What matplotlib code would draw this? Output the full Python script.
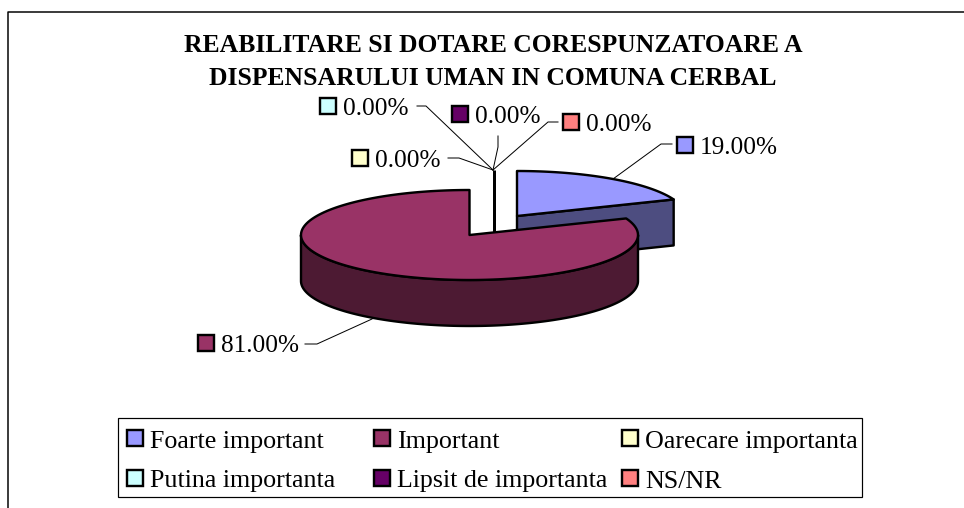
#===============================================================================
import numpy as np
import matplotlib
matplotlib.use('Agg')
import matplotlib.pyplot as plt
from matplotlib.colors import to_rgb
from matplotlib.patches import Polygon, Rectangle
#===============================================================================
categories = ['Foarte important', 'Important', 'Oarecare importanta',
              'Putina importanta', 'Lipsit de importanta', 'NS/NR']
values = [19.0, 81.0, 0.0, 0.0, 0.0, 0.0]
labels = ['19.00%', '81.00%', '0.00%', '0.00%', '0.00%', '0.00%']
colors = ['#9999FF', '#993366', '#FFFFCC', '#CCFFFF', '#660066', '#FF8080']
title = 'REABILITARE SI DOTARE CORESPUNZATOARE A\nDISPENSARULUI UMAN IN COMUNA CERBAL'
#===============================================================================
plt.rcParams['font.family'] = ['Liberation Serif', 'DejaVu Serif']
fig = plt.figure(figsize=(9.64, 5.08), dpi=100, facecolor='w')
ax = fig.add_axes([0, 0, 1, 1])
ax.set_xlim(0, 964)
ax.set_ylim(508, 0)
ax.axis('off')
PX = 0.72  # pixel -> point
#===============================================================================
rx, ry, depth = 168.5, 45.0, 46.0

def rim(cx, cy, a0, a1):
    # a = degrees clockwise from 12 o'clock
    t = np.radians(np.linspace(a0, a1, 200))
    return np.c_[cx + rx * np.sin(t), cy - ry * np.cos(t)]

def dark(c):
    return tuple(0.5 * v for v in to_rgb(c))

def poly(p, c, z):
    ax.add_patch(Polygon(p, closed=True, fc=c, ec='k', lw=2 * PX * 1.2, joinstyle='round', zorder=z))

# frame, only left and top are in the picture
ax.plot([8, 8, 964], [508, 11.5, 11.5], color='k', lw=1.5 * PX, zorder=1)

end = 360.0 * values[0] / sum(values)

# small slice, pulled out
c0 = (517.0, 216.0)
p0 = rim(c0[0], c0[1], 0, end)
wall = np.array([c0, p0[-1], p0[-1] + [0, depth], (c0[0], c0[1] + depth)])
poly(wall, dark(colors[0]), 2)
poly(np.vstack([[c0], p0]), colors[0], 3)

# big slice
c1 = (469.5, 235.0)
front = rim(c1[0], c1[1], 90, 270)
poly(np.vstack([front, (front + [0, depth])[::-1]]), dark(colors[1]), 4)
poly(np.vstack([[c1], rim(c1[0], c1[1], end, 360)]), colors[1], 5)

# zero slices collapse to one line
ax.plot([493.5, 493.5], [170, 232], color='k', lw=3 * PX, zorder=2, solid_capstyle='butt')
#===============================================================================
# leaders and data labels: swatch left x, centre y, leader points
spots = [
    (677, 144.5, [(613, 179), (661, 144), (672, 144)]),
    (198, 343, [(372, 319), (317, 344), (305, 344)]),
    (352, 158, [(493, 170), (459, 158), (448, 158)]),
    (320, 106, [(493, 170), (426, 106), (417, 106)]),
    (452, 114, [(493, 170), (498, 147), (498, 136)]),
    (563, 122, [(493, 170), (548, 122), (558, 122)]),
]
for lab, col, (sx, sy, pts) in zip(labels, colors, spots):
    ax.plot(*zip(*pts), color='k', lw=1.0 * PX, zorder=6)
    ax.add_patch(Rectangle((sx, sy - 8), 16, 16, fc=col, ec='k', lw=2 * PX * 1.2, zorder=7))
    ax.text(sx + 23, sy + 0.5, lab, fontsize=25.2 * PX, va='center_baseline', ha='left', color='k')
#===============================================================================
ax.text(493, 61.8, title, fontsize=25.6 * PX, fontweight='bold', ha='center', va='center',
        linespacing=1.575, color='k')
#===============================================================================
# legend box
ax.add_patch(Rectangle((118, 418), 744, 79, fc='w', ec='k', lw=1.2 * PX, zorder=1))
col_x = [126.5, 374, 622]
row_y = [438, 477.5]
for i, (name, col) in enumerate(zip(categories, colors)):
    x = col_x[i % 3]
    y = row_y[i // 3]
    ax.add_patch(Rectangle((x, y - 8), 16, 16, fc=col, ec='k', lw=2 * PX * 1.2, zorder=7))
    ax.text(x + 23, y + 1.5, name, fontsize=26 * PX, va='center_baseline', ha='left', color='k')
#===============================================================================
fig.savefig('out.png', dpi=100, facecolor='w')
